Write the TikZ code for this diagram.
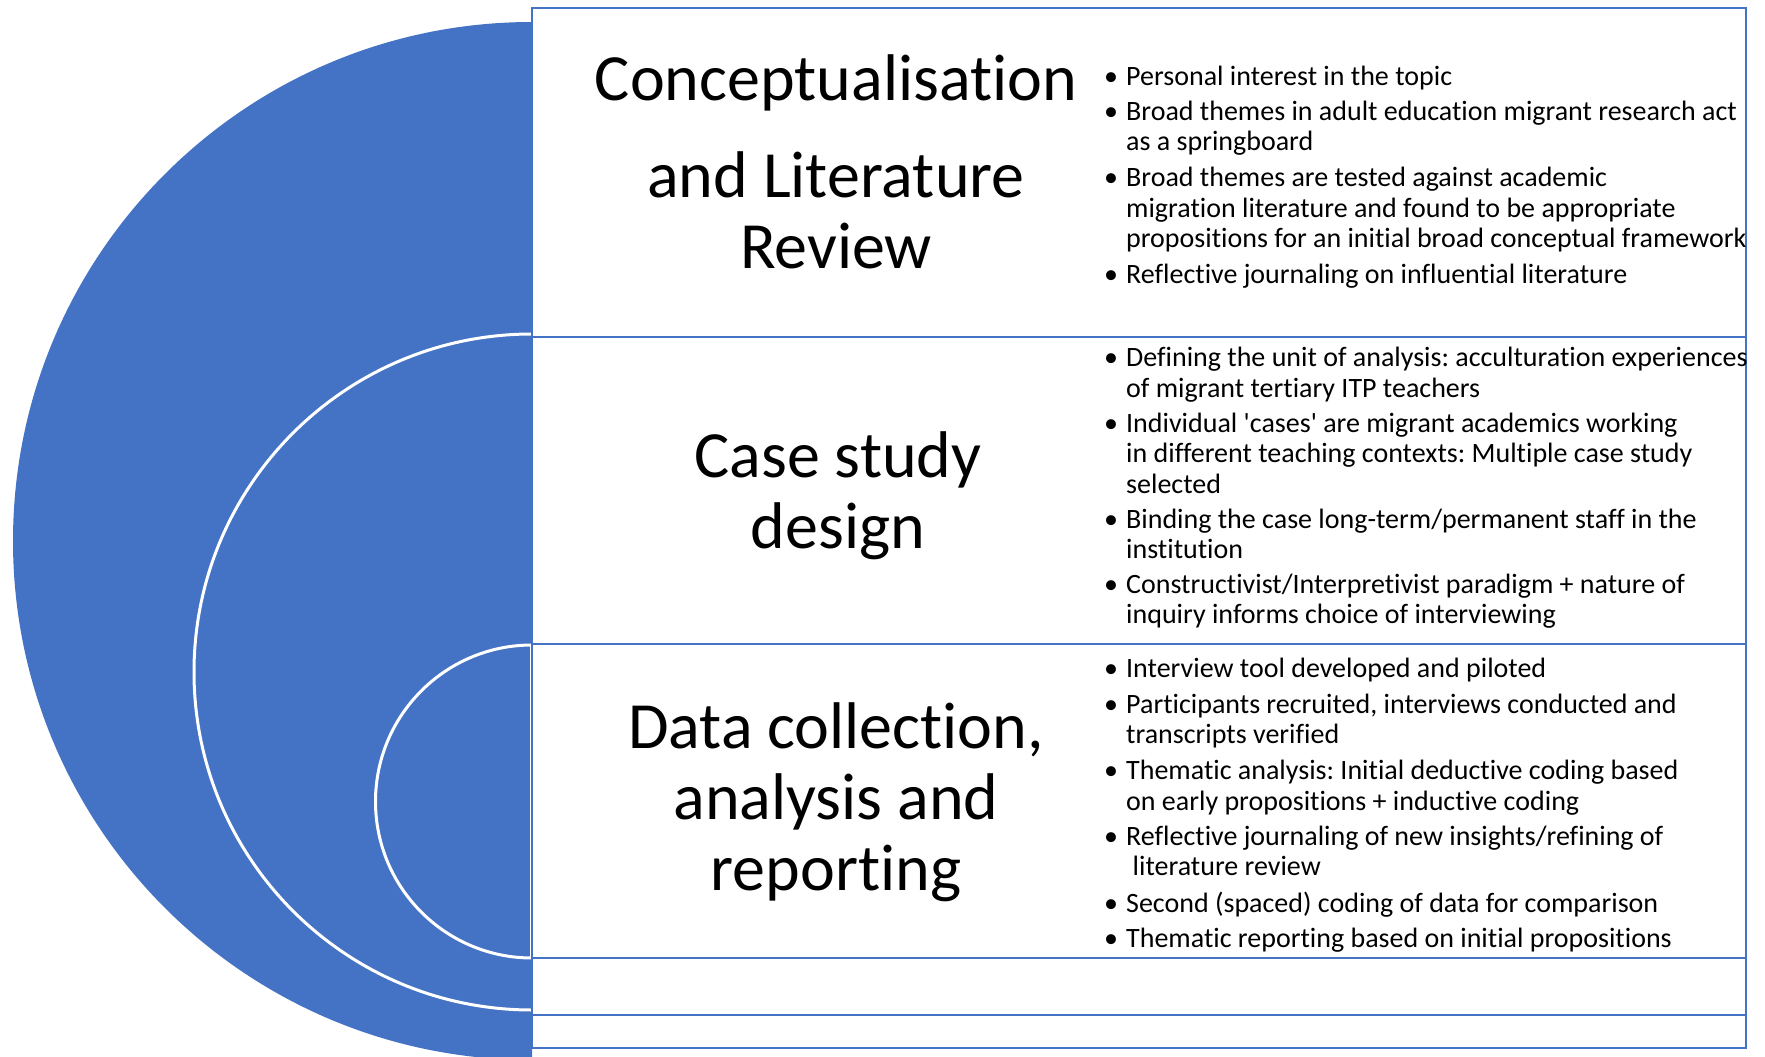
\documentclass[tikz,border=0pt]{standalone}
\usepackage{fontspec}
\setmainfont{Carlito}[Ligatures={TeXOff,NoCommon}]
\definecolor{officeblue}{HTML}{4472C4}
\newcommand{\bulmark}{\makebox[22pt][l]{\textbullet}}
\newcommand{\bulgap}{\hspace*{22pt}}
\frenchspacing
\begin{document}
\begin{tikzpicture}[x=1pt,y=-1pt,
  stagetitle/.style={font=\fontsize{66}{71}\selectfont, align=center, inner sep=0pt, anchor=north},
  stageitem/.style={font=\fontsize{28}{30.5}\selectfont, align=left, inner sep=0pt, anchor=north west},
  rowline/.style={draw=officeblue, line width=2pt},
  ring/.style={fill=officeblue, draw=white, line width=3pt}]
\useasboundingbox (0,0) rectangle (1765,1057);
\fill[white] (0,0) rectangle (1765,1057);

% nested half-discs on the left
\begin{scope}
  \clip (0,0) rectangle (532,1057);
  \fill[officeblue] (532,541) circle[radius=519pt];
  \draw[ring] (532,672) circle[radius=338pt];
  \draw[ring] (532,801.5) circle[radius=156.5pt];
\end{scope}
\draw[white, line width=2pt] (530.5,645) -- (530.5,958);

% table frame and row separators
\draw[rowline] (532,8) rectangle (1746,1048);
\draw[rowline] (532,337) -- (1746,337);
\draw[rowline] (532,644) -- (1746,644);
\draw[rowline] (532,957.5) -- (1746,957.5);
\draw[rowline] (532,1015) -- (1746,1015);

% stage titles
\node[stagetitle] (t1) at (836,50.3) {\strut Conceptualisation\\[26pt] and Literature\\ Review};
\node[stagetitle] (t2) at (838,427.3) {\strut Case study\\ design};
\node[stagetitle] (t3) at (836,698.8) {\strut Data collection,\\ analysis and\\ reporting};

% stage 1 items
\node[stageitem] (b11) at (1104,63.6) {\strut\bulmark Personal interest in the topic};
\node[stageitem] (b12) at (1104,98.6) {\strut\bulmark Broad themes in adult education migrant research act\\ \bulgap as a springboard};
\node[stageitem] (b13) at (1104,165.1) {\strut\bulmark Broad themes are tested against academic\\ \bulgap migration literature and found to be appropriate\\ \bulgap propositions for an initial broad conceptual framework};
\node[stageitem] (b14) at (1104,261.6) {\strut\bulmark Reflective journaling on influential literature};

% stage 2 items
\node[stageitem] (b21) at (1104,345.1) {\strut\bulmark Defining the unit of analysis: acculturation experiences\\ \bulgap of migrant tertiary ITP teachers};
\node[stageitem] (b22) at (1104,410.6) {\strut\bulmark Individual 'cases' are migrant academics working\\ \bulgap in different teaching contexts: Multiple case study\\ \bulgap selected};
\node[stageitem] (b23) at (1104,506.6) {\strut\bulmark Binding the case long-term/permanent staff in the\\ \bulgap institution};
\node[stageitem] (b24) at (1104,571.6) {\strut\bulmark Constructivist/Interpretivist paradigm + nature of\\ \bulgap inquiry informs choice of interviewing};

% stage 3 items
\node[stageitem] (b31) at (1104,655.6) {\strut\bulmark Interview tool developed and piloted};
\node[stageitem] (b32) at (1104,691.6) {\strut\bulmark Participants recruited, interviews conducted and\\ \bulgap transcripts verified};
\node[stageitem] (b33) at (1104,758.1) {\strut\bulmark Thematic analysis: Initial deductive coding based\\ \bulgap on early propositions + inductive coding};
\node[stageitem] (b34) at (1104,823.6) {\strut\bulmark Reflective journaling of new insights/refining of\\ \hspace*{28.5pt}literature review};
\node[stageitem] (b35) at (1104,891.1) {\strut\bulmark Second (spaced) coding of data for comparison};
\node[stageitem] (b36) at (1104,925.6) {\strut\bulmark Thematic reporting based on initial propositions};
\end{tikzpicture}
\end{document}
